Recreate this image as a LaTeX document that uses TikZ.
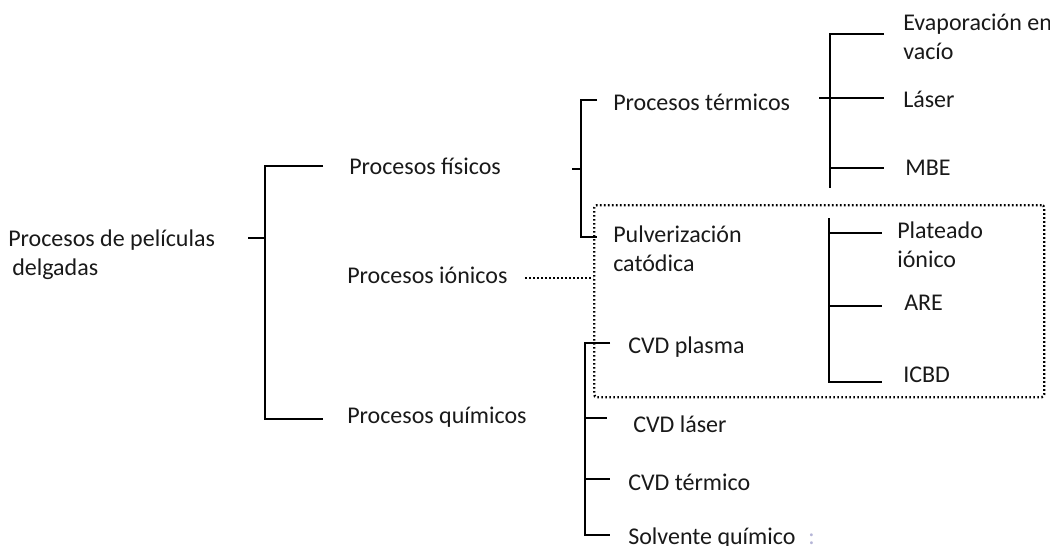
\documentclass[tikz,border=0pt]{standalone}
\usepackage{fontspec}
\setmainfont{Carlito}
\begin{document}
\begin{tikzpicture}[x=0.75pt,y=-0.75pt,
  lbl/.style={anchor=base west, inner sep=0pt, font=\fontsize{18pt}{21.5pt}\selectfont, align=left, text=black!90},
  link/.style={line width=1.5pt},
  dots/.style={line width=1.8pt, dash pattern=on 1.2pt off 1.8pt}]
\useasboundingbox (0,0) rectangle (1050,546);

% text nodes (multi-line nodes are anchored at the baseline of their last line)
\node[lbl] (root) at (8,275) {Procesos de películas\\\hspace{3pt}delgadas};
\node[lbl] (fis) at (349,174) {Procesos físicos};
\node[lbl] (ion) at (347,283) {Procesos iónicos};
\node[lbl] (qui) at (347,423) {Procesos químicos};
\node[lbl] (term) at (613,110) {Procesos térmicos};
\node[lbl] (pulv) at (613,271) {Pulverización\\catódica};
\node[lbl] (evap) at (903,59) {Evaporación en\\vacío};
\node[lbl] (laser) at (903,107) {Láser};
\node[lbl] (mbe) at (905,175) {MBE};
\node[lbl] (plat) at (897,267) {Plateado\\iónico};
\node[lbl] (are) at (904,310) {ARE};
\node[lbl] (icbd) at (903,382) {ICBD};
\node[lbl] (cvdp) at (628,353) {CVD plasma};
\node[lbl] (cvdl) at (633,432) {CVD láser};
\node[lbl] (cvdt) at (628,490) {CVD térmico};
\node[lbl] (solv) at (628,544) {Solvente químico};
\node[lbl, text=blue!30!gray!45] (mark) at (808,544) {:};

% root bracket
\coordinate (rT) at (248,238);
\coordinate (rB) at (265,238);
\coordinate (rTop) at (265,166);
\coordinate (rBot) at (265,419);
\coordinate (fisL) at (323,166);
\coordinate (quiL) at (323,419);
\draw[link] (rT) -- (rB);
\draw[link] (fisL) -- (rTop) -- (rBot) -- (quiL);

% physical bracket
\coordinate (pT) at (572,169);
\coordinate (pB) at (581,169);
\coordinate (pTop) at (581,100);
\coordinate (pBot) at (581,237);
\coordinate (termL) at (597,100);
\coordinate (pulvL) at (597,237);
\draw[link] (pT) -- (pB);
\draw[link] (termL) -- (pTop) -- (pBot) -- (pulvL);

% thermal bracket
\coordinate (tT) at (819,98);
\coordinate (tTop) at (830,34);
\coordinate (tBot) at (830,188);
\coordinate (evapL) at (884,34);
\coordinate (laserL) at (884,98);
\coordinate (mbeL) at (884,168);
\coordinate (tLow) at (830,168);
\draw[link] (evapL) -- (tTop) -- (tBot);
\draw[link] (tT) -- (laserL);
\draw[link] (tLow) -- (mbeL);

% ionic bracket
\coordinate (iTop) at (829,218);
\coordinate (iBot) at (829,382);
\coordinate (iP) at (829,233);
\coordinate (iA) at (829,306);
\coordinate (platL) at (882,233);
\coordinate (areL) at (882,306);
\coordinate (icbdL) at (882,382);
\draw[link] (iTop) -- (iBot) -- (icbdL);
\draw[link] (iP) -- (platL);
\draw[link] (iA) -- (areL);

% chemical bracket
\coordinate (cTop) at (585,343);
\coordinate (cBot) at (585,535);
\coordinate (c2) at (585,418);
\coordinate (c3) at (585,479);
\coordinate (cvdpL) at (610,343);
\coordinate (cvdlL) at (607,418);
\coordinate (cvdtL) at (610,479);
\coordinate (solvL) at (610,535);
\draw[link] (cvdpL) -- (cTop) -- (cBot) -- (solvL);
\draw[link] (c2) -- (cvdlL);
\draw[link] (c3) -- (cvdtL);

% ionic dotted group
\coordinate (ionR) at (525,278);
\node[draw, dots, rounded corners=2pt, minimum width=337.5pt, minimum height=144pt, anchor=north west, inner sep=0pt] (box) at (593,204) {};
\draw[dots] (ionR) -- (box.west |- ionR);
\end{tikzpicture}
\end{document}
